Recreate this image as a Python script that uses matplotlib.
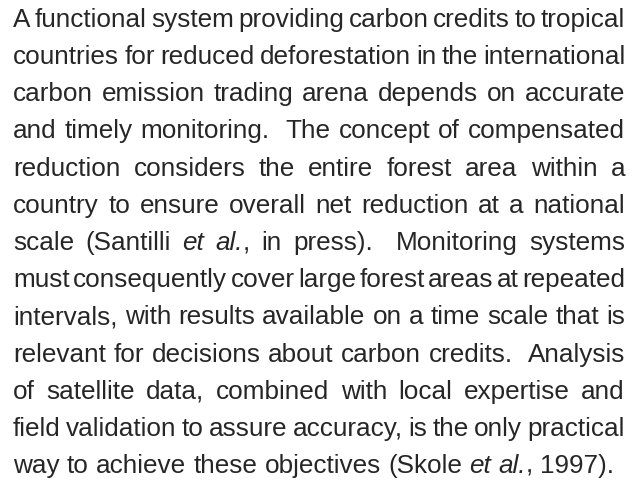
import matplotlib
matplotlib.use("Agg")
import matplotlib.pyplot as plt

# text of the paragraph, one entry per printed line
# pieces in *...* are italic
lines = [
    "A functional system providing carbon credits to tropical",
    "countries for reduced deforestation in the international",
    "carbon emission trading arena depends on accurate",
    "and timely monitoring.  The concept of compensated",
    "reduction considers the entire forest area within a",
    "country to ensure overall net reduction at a national",
    "scale (Santilli *et* *al.*, in press).  Monitoring systems",
    "must consequently cover large forest areas at repeated",
    "intervals, with results available on a time scale that is",
    "relevant for decisions about carbon credits.  Analysis",
    "of satellite data, combined with local expertise and",
    "field validation to assure accuracy, is the only practical",
    "way to achieve these objectives (Skole *et* *al.*, 1997).",
]

font = "Liberation Sans"
fsize = 18.8
color = "#262626"
x_left = 13
x_right = 625
y_first = 27
y_last = 473

fig = plt.figure(figsize=(6.37, 4.80), dpi=100)
fig.patch.set_facecolor("white")
renderer = fig.canvas.get_renderer()
W, H = 637, 480


def pieces(word):
    # split a word into (text, style) parts, *x* marks italic
    out = []
    parts = word.split("*")
    for k, p in enumerate(parts):
        if p:
            out.append((p, "italic" if k % 2 == 1 else "normal"))
    return out


def width(txt, style):
    t = fig.text(0, 0, txt, fontsize=fsize, family=font, style=style)
    w = t.get_window_extent(renderer).width
    t.remove()
    return w


space_w = width("a a", "normal") - width("aa", "normal")
step = (y_last - y_first) / (len(lines) - 1)

for i, line in enumerate(lines):
    # words and gap weights (double space = 2)
    tokens = line.split(" ")
    words = []
    gaps = []
    pending = 0
    for tok in tokens:
        if tok == "":
            pending += 1
            continue
        if words:
            gaps.append(1 + pending)
        pending = 0
        words.append(pieces(tok))
    wwidths = [sum(width(p, s) for p, s in w) for w in words]
    last = i == len(lines) - 1
    if last:
        gap_unit = space_w
    else:
        gap_unit = (x_right - x_left - sum(wwidths)) / sum(gaps)
    # whole-pixel baseline keeps words of a line on one level
    y = H - round(y_first + i * step)
    x = x_left
    for j, w in enumerate(words):
        for p, s in w:
            fig.text(x / W, y / H, p, fontsize=fsize, family=font, style=s,
                     color=color, ha="left", va="baseline")
            x += width(p, s)
        if j < len(gaps):
            x += gaps[j] * gap_unit

fig.savefig("out.png", dpi=100, facecolor="white")
